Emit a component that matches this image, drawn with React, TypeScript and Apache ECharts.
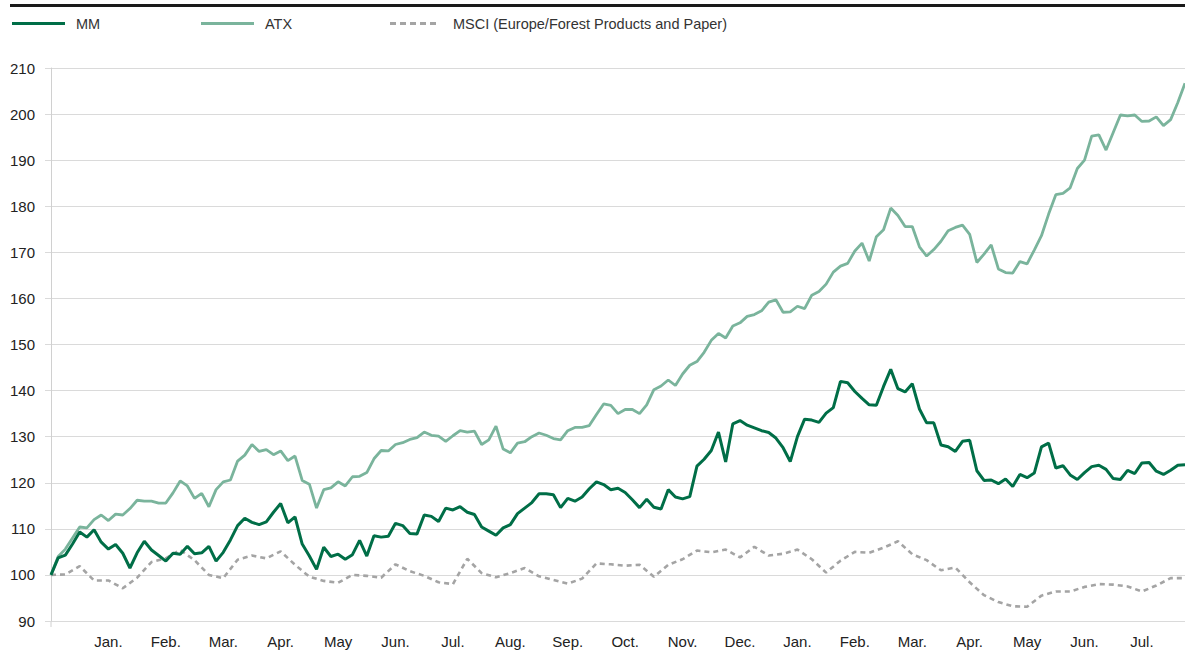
import React, { useEffect, useRef } from "react";
import * as echarts from "echarts";

// x step in months between consecutive points
const STEP_MAIN = 0.125;
const STEP_MSCI = 0.25;

const monthLabels = [
  "", "Jan.", "Feb.", "Mar.", "Apr.", "May", "Jun.", "Jul.", "Aug.", "Sep.", "Oct.", "Nov.", "Dec.",
  "Jan.", "Feb.", "Mar.", "Apr.", "May", "Jun.", "Jul.",
];

const seriesNames = ["MM", "ATX", "MSCI (Europe/Forest Products and Paper)"];

const mmValues = [
  100, 103.7, 104.3, 106.7, 109.3, 108.2, 109.8, 107.1, 105.6, 106.6,
  104.7, 101.5, 104.8, 107.3, 105.4, 104.2, 103, 104.7, 104.5, 106.2,
  104.6, 104.8, 106.2, 103, 104.9, 107.6, 110.7, 112.3, 111.4, 110.9,
  111.5, 113.6, 115.5, 111.3, 112.6, 106.7, 104.1, 101.2, 106, 104,
  104.5, 103.4, 104.4, 107.5, 104.1, 108.5, 108.2, 108.4, 111.2, 110.7,
  109, 108.9, 113, 112.7, 111.6, 114.5, 114.1, 114.8, 113.6, 113.1,
  110.4, 109.5, 108.6, 110.2, 110.9, 113.3, 114.5, 115.7, 117.6, 117.6,
  117.4, 114.6, 116.6, 116, 116.9, 118.7, 120.2, 119.6, 118.5, 118.8,
  117.9, 116.3, 114.6, 116.4, 114.7, 114.3, 118.5, 116.9, 116.5, 117,
  123.6, 125.1, 127, 131, 124.5, 132.8, 133.5, 132.5, 131.9, 131.3,
  130.9, 129.7, 127.6, 124.6, 130, 133.8, 133.6, 133.1, 135.1, 136.3,
  142, 141.7, 139.8, 138.3, 136.9, 136.8, 140.9, 144.6, 140.4, 139.7,
  141.5, 136, 133, 133, 128.2, 127.8, 126.8, 129, 129.2, 122.6,
  120.5, 120.6, 119.8, 120.8, 119.2, 121.8, 121.1, 122.1, 127.8, 128.6,
  123.2, 123.7, 121.7, 120.7, 122.2, 123.5, 123.8, 122.9, 120.9, 120.7,
  122.7, 122, 124.3, 124.4, 122.5, 121.8, 122.7, 123.8, 123.9,
];

const atxValues = [
  100, 104, 105.6, 108, 110.4, 110.2, 112, 113, 111.8, 113.2,
  113, 114.4, 116.2, 116, 116, 115.6, 115.6, 117.8, 120.4, 119.3,
  116.6, 117.7, 114.8, 118.5, 120.2, 120.6, 124.7, 126, 128.3, 126.8,
  127.2, 126.1, 126.9, 124.8, 125.8, 120.5, 119.7, 114.5, 118.5, 118.9,
  120.2, 119.3, 121.3, 121.4, 122.2, 125.2, 127, 126.9, 128.3, 128.7,
  129.4, 129.8, 131, 130.3, 130.1, 129, 130.2, 131.3, 131, 131.2,
  128.3, 129.3, 132.3, 127.3, 126.5, 128.6, 128.9, 130, 130.8, 130.3,
  129.6, 129.3, 131.3, 132, 132, 132.4, 134.8, 137.1, 136.8, 135,
  135.9, 135.9, 135, 136.9, 140.2, 141, 142.3, 141.1, 143.6, 145.5,
  146.3, 148.3, 150.9, 152.4, 151.4, 154, 154.7, 156.1, 156.5, 157.3,
  159.2, 159.7, 157, 157.1, 158.3, 157.8, 160.7, 161.5, 163.1, 165.7,
  167, 167.6, 170.3, 172, 168.1, 173.4, 174.9, 179.6, 178, 175.6,
  175.6, 171.2, 169.2, 170.6, 172.4, 174.7, 175.4, 175.9, 173.9, 167.8,
  169.6, 171.6, 166.4, 165.6, 165.5, 168, 167.5, 170.5, 173.6, 178.3,
  182.5, 182.8, 184, 188.2, 190, 195.2, 195.5, 192.2, 196, 199.8,
  199.6, 199.8, 198.4, 198.5, 199.4, 197.5, 198.8, 202.5, 206.7,
];

const msciValues = [
  100, 100.1, 101.9, 98.8, 98.8, 97.1, 99.4, 102.8, 103.6, 105.4,
  103.2, 100, 99.3, 103.3, 104.2, 103.6, 105.1, 102.2, 99.6, 98.7,
  98.3, 100, 99.8, 99.4, 102.3, 100.8, 99.8, 98.4, 98, 103.5,
  100.4, 99.5, 100.4, 101.5, 99.7, 98.9, 98.1, 99.2, 102.5, 102.3,
  102, 102.2, 99.6, 102.2, 103.4, 105.3, 104.9, 105.5, 103.8, 106.1,
  104.2, 104.6, 105.5, 103.4, 100.5, 103.1, 105, 104.8, 105.9, 107.3,
  104.5, 103.2, 101, 101.6, 98.4, 95.6, 94.1, 93.2, 93.1, 95.5,
  96.4, 96.4, 97.4, 98, 97.9, 97.5, 96.4, 97.7, 99.3, 99.3,
];

const colors = ["#006e47", "#7ab49c", "#a4a4a4"];
const FONT = "'Liberation Sans', Arial, sans-serif";
const GRID_COLOR = "#dadada";

const DASH_ICON =
  "path://M0,0h6v3h-6z M10,0h6v3h-6z M20,0h6v3h-6z M30,0h6v3h-6z M40,0h6v3h-6z";

export default function App() {
  const ref = useRef<HTMLDivElement>(null);
  useEffect(() => {
    document.body.style.margin = "0";
    if (!ref.current) return;
    const chart = echarts.init(ref.current, null, { renderer: "svg" });
    const toPairs = (arr: number[], step: number) => arr.map((v, i) => [i * step, v]);
    const xMax = (mmValues.length - 1) * STEP_MAIN;
    const legendBase = {
      top: 16,
      padding: 0,
      itemHeight: 3,
      selectedMode: false,
    };
    const legendText = (pad: number) => ({
      fontFamily: FONT,
      fontSize: 14.5,
      color: "#333",
      padding: [0, 0, 0, pad],
    });
    chart.setOption({
      animation: false,
      textStyle: { fontFamily: FONT },
      grid: { left: 51, right: 0, top: 68, bottom: 30 },
      legend: [
        { ...legendBase, left: 12, itemWidth: 53, icon: "rect", textStyle: legendText(6), data: [seriesNames[0]] },
        { ...legendBase, left: 201, itemWidth: 53, icon: "rect", textStyle: legendText(6), data: [seriesNames[1]] },
        { ...legendBase, left: 390, itemWidth: 46, icon: DASH_ICON, textStyle: legendText(12), data: [seriesNames[2]] },
      ],
      xAxis: {
        type: "value",
        min: 0,
        max: xMax,
        interval: 1,
        axisLine: { show: false },
        axisTick: { show: false },
        splitLine: { show: false },
        axisLabel: {
          margin: 13,
          fontSize: 15,
          color: "#222",
          fontFamily: FONT,
          formatter: (v: number) => (Number.isInteger(v) ? monthLabels[v] || "" : ""),
          showMaxLabel: false,
        },
      },
      yAxis: {
        type: "value",
        min: 90,
        max: 210,
        interval: 10,
        axisLine: { show: true, lineStyle: { color: "#d0d0d0", width: 1 } },
        axisTick: { show: true, length: 6, lineStyle: { color: GRID_COLOR, width: 1 } },
        splitLine: { lineStyle: { color: GRID_COLOR, width: 1 } },
        axisLabel: { margin: 16, fontSize: 15, color: "#222", fontFamily: FONT },
      },
      graphic: [
        { type: "rect", left: 10, top: 4, shape: { width: 1175, height: 3 }, style: { fill: "#1a1a1a" } },
        { type: "line", shape: { x1: 51, y1: 621, x2: 51, y2: 627 }, style: { stroke: "#d0d0d0", lineWidth: 1 } },
      ],
      series: [
        {
          name: seriesNames[2],
          type: "line",
          symbol: "none",
          data: toPairs(msciValues, STEP_MSCI),
          lineStyle: { color: colors[2], width: 2.6, type: [5, 4] },
          itemStyle: { color: colors[2] },
          z: 1,
        },
        {
          name: seriesNames[1],
          type: "line",
          symbol: "none",
          data: toPairs(atxValues, STEP_MAIN),
          lineStyle: { color: colors[1], width: 2.8 },
          itemStyle: { color: colors[1] },
          z: 2,
        },
        {
          name: seriesNames[0],
          type: "line",
          symbol: "none",
          data: toPairs(mmValues, STEP_MAIN),
          lineStyle: { color: colors[0], width: 3 },
          itemStyle: { color: colors[0] },
          z: 3,
        },
      ],
    });
    return () => chart.dispose();
  }, []);
  return <div ref={ref} style={{ width: 1185, height: 651 }} />;
}
